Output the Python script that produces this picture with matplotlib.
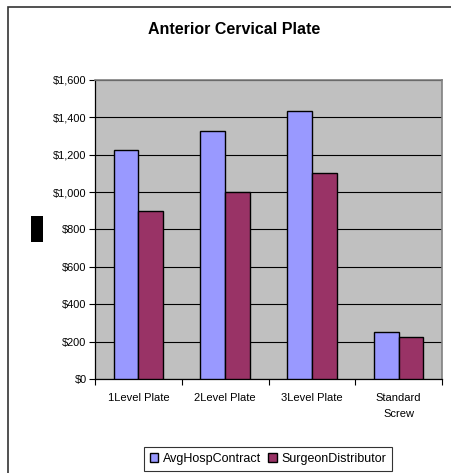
import numpy as np
import matplotlib
matplotlib.use('Agg')
import matplotlib.pyplot as plt
from matplotlib.patches import Rectangle
from matplotlib.ticker import FuncFormatter

categories = ['1Level Plate', '2Level Plate', '3Level Plate', 'Standard\nScrew']
avg_hosp = [1225, 1325, 1435, 250]
surgeon_dist = [900, 1000, 1100, 225]
series_names = ['AvgHospContract', 'SurgeonDistributor']

W, H = 452, 473
plt.rcParams['font.family'] = ['Liberation Sans', 'DejaVu Sans']

fig = plt.figure(figsize=(W / 100, H / 100), dpi=100)

# outer chart frame (runs off right/bottom edge)
fig.patches.append(Rectangle((8 / W, -0.05), 1.1, 1 - 7 / H + 0.05,
                             transform=fig.transFigure, fill=False,
                             edgecolor='#333333', linewidth=1.2))
# the black block where the y label should be
fig.patches.append(Rectangle((31 / W, 1 - 242 / H), 12 / W, 26 / H,
                             transform=fig.transFigure, facecolor='black',
                             edgecolor='none'))

left, right, top, bottom = 95, 442, 80, 379
ax = fig.add_axes([left / W, 1 - bottom / H, (right - left) / W, (bottom - top) / H])
ax.set_facecolor('#C0C0C0')

x = np.arange(len(categories))
bw = 0.285
ax.bar(x - bw / 2, avg_hosp, bw, color='#9999FF', edgecolor='black',
       linewidth=1.0, label=series_names[0], zorder=3)
ax.bar(x + bw / 2, surgeon_dist, bw, color='#993366', edgecolor='black',
       linewidth=1.0, label=series_names[1], zorder=3)

ax.set_xlim(-0.5, len(categories) - 0.5)
ax.set_ylim(0, 1600)
ax.set_yticks(np.arange(0, 1601, 200))
ax.yaxis.set_major_formatter(FuncFormatter(lambda v, p: '${:,.0f}'.format(v)))
ax.grid(axis='y', color='black', linewidth=0.8, zorder=1)

ax.set_xticks(x)
ax.set_xticklabels(categories, fontsize=8, linespacing=1.75)
ax.set_xticks(np.arange(-0.5, len(categories)), minor=True)
ax.tick_params(axis='x', which='major', length=0, pad=10)
ax.tick_params(axis='x', which='minor', length=4, width=0.8, direction='out')
ax.tick_params(axis='y', length=4, width=0.8, direction='out', labelsize=7.9, pad=2)

for s in ['top', 'right']:
    ax.spines[s].set_color('#808080')
    ax.spines[s].set_linewidth(1.2)
for s in ['left', 'bottom']:
    ax.spines[s].set_color('black')
    ax.spines[s].set_linewidth(0.9)

fig.text(234 / W, 1 - 29 / H, 'Anterior Cervical Plate', ha='center', va='center',
         fontsize=11.5, fontweight='bold')

leg = fig.legend(loc='center', bbox_to_anchor=(268 / W, 1 - 459 / H), ncol=2,
                 fontsize=9, frameon=True, fancybox=False, handlelength=0.65,
                 handleheight=0.65, handletextpad=0.35, columnspacing=0.6,
                 borderpad=0.5)
leg.get_frame().set_edgecolor('black')
leg.get_frame().set_linewidth(0.8)

fig.savefig('out.png', dpi=100)
